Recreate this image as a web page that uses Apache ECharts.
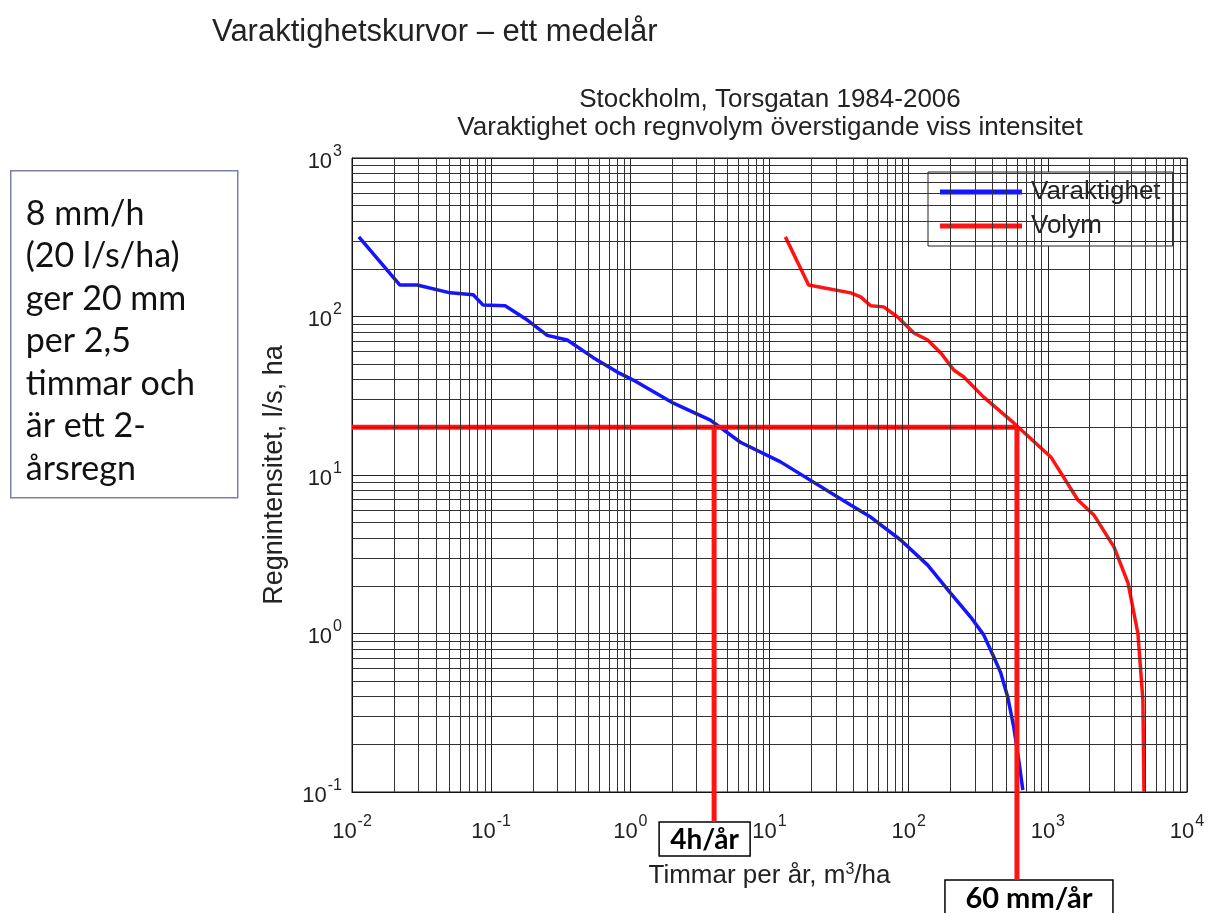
<!DOCTYPE html>
<html>
<head>
<meta charset="utf-8">
<script src="https://cdn.jsdelivr.net/npm/echarts@6/dist/echarts.min.js"></script>
<style>
html, body { margin: 0; padding: 0; background: #fff; }
#chart { width: 1212px; height: 913px; }
</style>
</head>
<body>
<div id="chart"></div>
<script>
// Varaktighet: timmar per år vs regnintensitet (l/s, ha)
const varaktighetTimmar = [0.0112, 0.0221, 0.0294, 0.0507, 0.0743, 0.0876, 0.126, 0.182, 0.253, 0.352, 0.542, 0.806, 1.05, 2.04, 3.76, 6.18, 12.0, 38.3, 53.3, 87.6, 137, 200, 279, 346, 409, 459, 515, 569, 618, 661];
const varaktighetIntensitet = [318, 158, 158, 141, 137, 118, 117, 95, 76, 71, 55, 44.6, 39.7, 28.4, 22.2, 16.1, 12.1, 6.47, 5.43, 3.89, 2.70, 1.80, 1.27, 0.98, 0.711, 0.564, 0.397, 0.257, 0.159, 0.103];
// Volym: m3/ha per år vs regnintensitet
const volymM3 = [13.0, 19.1, 23.3, 38.3, 45.2, 53.3, 66.1, 83.3, 109, 137, 170, 211, 249, 346, 569, 1050, 1645, 2140, 2985, 3770, 4440, 4820, 4905];
const volymIntensitet = [318, 158, 153, 141, 133, 117, 115, 99.3, 78.7, 71.1, 58.9, 46.0, 41.5, 31.0, 21.3, 13.0, 6.95, 5.6, 3.52, 2.08, 1.0, 0.38, 0.1];

// reference reading: 20 l/s/ha -> 4 h/år and 600 m3/ha (60 mm/år)
const refIntensitet = 20;
const refTimmar = 4;
const refVolym = 600;

const xTicks = [0.01, 0.1, 1, 10, 100, 1000, 10000];
const yTicks = [0.1, 1, 10, 100, 1000];

const textLines = ['8 mm/h', '(20 l/s/ha)', 'ger 20 mm', 'per 2,5', 'timmar och', 'är ett 2-', 'årsregn'];

const FONT = 'Liberation Sans';

// log paper minor lines 2..9 in every decade
function minors(ticks) {
  let out = [];
  for (let i = 0; i < ticks.length - 1; i++) {
    for (let k = 2; k <= 9; k++) out.push(k * ticks[i]);
  }
  return out;
}
const gridLines = minors(xTicks).map(v => ({ xAxis: v })).concat(minors(yTicks).map(v => ({ yAxis: v })));

function pow10Label(v) {
  return '{b|10}{s|' + Math.round(Math.log10(v)) + '}';
}
const powRich = {
  b: { fontSize: 22, fontFamily: FONT, color: '#222', verticalAlign: 'bottom' },
  s: { fontSize: 16, fontFamily: FONT, color: '#222', verticalAlign: 'bottom', padding: [0, 0, 13, 1] }
};

const chart = echarts.init(document.getElementById('chart'));

const option = {
  animation: false,
  backgroundColor: '#fff',
  grid: { left: 352, top: 158, width: 835, height: 634, show: true, borderColor: '#111', borderWidth: 1 },
  legend: {
    data: ['Varaktighet', 'Volym'],
    orient: 'vertical',
    left: 928,
    top: 172,
    backgroundColor: '#fff',
    borderColor: '#222',
    borderWidth: 1,
    borderRadius: 0,
    padding: [7, 12, 7, 12],
    itemGap: 8,
    itemWidth: 82,
    itemHeight: 5,
    icon: 'rect',
    textStyle: { fontSize: 26, fontFamily: FONT, color: '#222', padding: [0, 0, 0, 4] }
  },
  xAxis: {
    type: 'log',
    logBase: 10,
    min: xTicks[0],
    max: xTicks[xTicks.length - 1],
    splitNumber: 6,
    name: 'Timmar per år, m{sup|3}/ha',
    nameLocation: 'middle',
    nameGap: 70,
    nameTextStyle: {
      fontSize: 26, fontFamily: FONT, color: '#222',
      rich: { sup: { fontSize: 16, fontFamily: FONT, color: '#222', padding: [0, 0, 12, 0] } }
    },
    axisLine: { show: true, lineStyle: { color: '#111' } },
    axisTick: { show: false },
    axisLabel: { formatter: pow10Label, rich: powRich, margin: 22 },
    splitLine: { show: true, lineStyle: { color: '#222', width: 1 } }
  },
  yAxis: {
    type: 'log',
    logBase: 10,
    min: yTicks[0],
    max: yTicks[yTicks.length - 1],
    splitNumber: 4,
    name: 'Regnintensitet, l/s, ha',
    nameLocation: 'middle',
    nameGap: 64,
    nameTextStyle: { fontSize: 27, fontFamily: FONT, color: '#222' },
    axisLine: { show: true, lineStyle: { color: '#111' } },
    axisTick: { show: false },
    axisLabel: { formatter: pow10Label, rich: powRich, margin: 10 },
    splitLine: { show: true, lineStyle: { color: '#222', width: 1 } }
  },
  series: [
    {
      name: 'grid',
      type: 'line',
      data: [],
      silent: true,
      z: 1,
      markLine: {
        silent: true,
        symbol: ['none', 'none'],
        label: { show: false },
        lineStyle: { type: 'solid', color: '#333', width: 1 },
        emphasis: { disabled: true },
        animation: false,
        data: gridLines
      }
    },
    {
      name: 'Varaktighet',
      type: 'line',
      data: varaktighetTimmar.map((x, i) => [x, varaktighetIntensitet[i]]),
      showSymbol: false,
      lineStyle: { color: '#1414ff', width: 3.5 },
      itemStyle: { color: '#1414ff' },
      z: 3
    },
    {
      name: 'Volym',
      type: 'line',
      data: volymM3.map((x, i) => [x, volymIntensitet[i]]),
      showSymbol: false,
      lineStyle: { color: '#ff1414', width: 3.5 },
      itemStyle: { color: '#ff1414' },
      z: 3
    },
    {
      name: 'ref',
      type: 'line',
      data: [[xTicks[0], refIntensitet], [refVolym, refIntensitet]],
      showSymbol: false,
      lineStyle: { color: '#ff1414', width: 5 },
      z: 4
    }
  ]
};
chart.setOption(option);

// annotation drop lines and boxes below the axis
const yRef = chart.convertToPixel({ yAxisIndex: 0 }, refIntensitet);
const xH = chart.convertToPixel({ xAxisIndex: 0 }, refTimmar);
const xV = chart.convertToPixel({ xAxisIndex: 0 }, refVolym);

chart.setOption({
  graphic: [
    { type: 'text', left: 212, top: 17, style: { text: 'Varaktighetskurvor – ett medelår', fontSize: 31, fontFamily: FONT, fill: '#222' } },
    { type: 'text', x: 770, y: 86, style: { text: 'Stockholm, Torsgatan 1984-2006\nVaraktighet och regnvolym överstigande viss intensitet', align: 'center', lineHeight: 28, fontSize: 26, fontFamily: FONT, fill: '#222' } },
    {
      type: 'group', left: 10, top: 170,
      children: [
        { type: 'rect', shape: { x: 0, y: 0, width: 227, height: 327 }, style: { fill: '#fff', stroke: '#7c80a6', lineWidth: 1.5 } },
        { type: 'text', x: 15, y: 22, style: { text: textLines.join('\n'), lineHeight: 42.5, fontSize: 34, fontFamily: 'Lato', fill: '#111' } }
      ]
    },
    { type: 'line', z: 10, shape: { x1: xH, y1: yRef, x2: xH, y2: 822 }, style: { stroke: '#ff1414', lineWidth: 5 } },
    { type: 'line', z: 10, shape: { x1: xV, y1: yRef, x2: xV, y2: 880 }, style: { stroke: '#ff1414', lineWidth: 5 } },
    {
      type: 'group', x: xH - 55, y: 822, z: 11,
      children: [
        { type: 'rect', shape: { x: 0, y: 0, width: 91, height: 34 }, style: { fill: '#fff', stroke: '#000', lineWidth: 1.5 } },
        { type: 'text', x: 45.5, y: 18, style: { text: '4h/år', align: 'center', verticalAlign: 'middle', fontSize: 28, fontWeight: 'bold', fontFamily: 'Lato', fill: '#000' } }
      ]
    },
    {
      type: 'group', x: xV - 72, y: 880, z: 11,
      children: [
        { type: 'rect', shape: { x: 0, y: 0, width: 168, height: 40 }, style: { fill: '#fff', stroke: '#000', lineWidth: 1.5 } },
        { type: 'text', x: 84, y: 19, style: { text: '60 mm/år', align: 'center', verticalAlign: 'middle', fontSize: 29, fontWeight: 'bold', fontFamily: 'Lato', fill: '#000' } }
      ]
    }
  ]
});
</script>
</body>
</html>
